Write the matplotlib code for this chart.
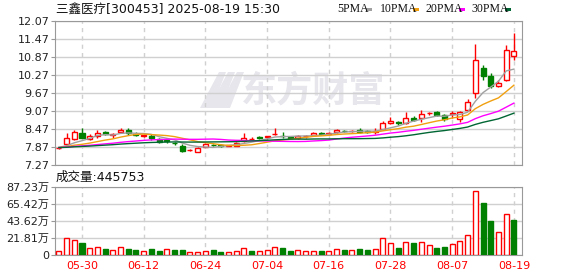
import numpy as np
import matplotlib.pyplot as plt
from matplotlib.patches import Rectangle, Polygon

plt.rcParams['font.family'] = ['DejaVu Sans', 'Noto Sans CJK SC']

# ---- data ----
dates = ["05-27", "05-28", "05-29", "05-30", "06-03", "06-04", "06-05", "06-06", "06-09", "06-10",
         "06-11", "06-12", "06-13", "06-16", "06-17", "06-18", "06-19", "06-20", "06-23", "06-24",
         "06-25", "06-26", "06-27", "06-30", "07-01", "07-02", "07-03", "07-04", "07-07", "07-08",
         "07-09", "07-10", "07-11", "07-14", "07-15", "07-16", "07-17", "07-18", "07-21", "07-22",
         "07-23", "07-24", "07-25", "07-28", "07-29", "07-30", "07-31", "08-01", "08-04", "08-05",
         "08-06", "08-07", "08-08", "08-11", "08-12", "08-13", "08-14", "08-15", "08-18", "08-19"]

opens = [7.82, 7.96, 8.13, 8.33, 8.13, 8.24, 8.38, 8.28, 8.36, 8.44,
         8.29, 8.25, 8.25, 8.14, 8.12, 8.01, 7.91, 7.76, 7.72, 7.88,
         7.95, 7.95, 7.91, 7.91, 8.07, 8.14, 8.19, 8.19, 8.29, 8.25,
         8.19, 8.17, 8.22, 8.27, 8.34, 8.32, 8.36, 8.42, 8.40, 8.45,
         8.39, 8.38, 8.47, 8.68, 8.69, 8.67, 8.84, 8.84, 8.99, 9.05,
         8.94, 8.97, 8.79, 9.10, 9.68, 10.49, 10.25, 9.92, 10.10, 10.90]
closes = [7.84, 8.16, 8.36, 8.18, 8.24, 8.33, 8.30, 8.30, 8.44, 8.33,
          8.26, 8.27, 8.16, 8.05, 8.06, 7.99, 7.75, 7.78, 7.85, 7.97,
          7.93, 7.91, 7.93, 8.01, 8.16, 8.15, 8.17, 8.22, 8.31, 8.23,
          8.18, 8.23, 8.24, 8.35, 8.32, 8.33, 8.44, 8.40, 8.42, 8.38,
          8.37, 8.40, 8.66, 8.74, 8.67, 8.83, 8.77, 8.96, 9.01, 8.94,
          8.80, 8.99, 9.03, 9.38, 10.77, 10.25, 9.91, 10.00, 11.10, 11.07]
highs = [7.86, 8.33, 8.44, 8.49, 8.29, 8.44, 8.41, 8.33, 8.49, 8.49,
         8.36, 8.30, 8.29, 8.16, 8.14, 8.05, 7.96, 7.80, 7.86, 7.99,
         7.98, 7.97, 7.94, 8.03, 8.33, 8.21, 8.23, 8.23, 8.49, 8.36,
         8.23, 8.26, 8.27, 8.38, 8.38, 8.36, 8.46, 8.45, 8.45, 8.49,
         8.44, 8.49, 8.75, 8.88, 8.75, 9.05, 8.90, 9.10, 9.03, 9.07,
         8.96, 9.07, 9.07, 9.47, 11.30, 10.60, 10.33, 10.10, 11.27, 11.66]
lows = [7.80, 7.95, 8.12, 8.16, 8.10, 8.18, 8.27, 8.18, 8.33, 8.27,
        8.22, 8.20, 8.12, 8.02, 8.02, 7.93, 7.69, 7.74, 7.71, 7.86,
        7.90, 7.88, 7.90, 7.89, 8.05, 8.11, 8.14, 8.14, 8.26, 8.18,
        8.14, 8.14, 8.17, 8.25, 8.27, 8.29, 8.33, 8.36, 8.37, 8.33,
        8.33, 8.29, 8.45, 8.64, 8.62, 8.64, 8.74, 8.71, 8.93, 8.91,
        8.75, 8.83, 8.72, 9.08, 9.51, 10.10, 9.83, 9.86, 10.08, 10.77]

# volume in 万 shares, and its colour flag (1 = red, 0 = green)
volumes = [5.1, 21.4, 19.2, 15.0, 8.5, 9.8, 7.7, 6.4, 9.8, 7.7,
           6.4, 5.1, 7.7, 5.1, 7.3, 6.4, 6.4, 3.8, 3.8, 5.1,
           6.4, 3.8, 3.4, 5.1, 8.5, 5.1, 5.1, 6.4, 10.7, 9.4,
           5.1, 6.4, 5.1, 5.1, 5.1, 5.1, 7.7, 6.4, 6.4, 7.7,
           6.4, 7.7, 21.4, 15.0, 9.4, 16.2, 15.4, 16.2, 12.4, 9.4,
           10.3, 13.7, 17.9, 25.2, 82.1, 66.7, 43.6, 29.1, 52.1, 44.58]
vol_up = [1, 1, 1, 0, 1, 1, 0, 1, 1, 0,
          0, 1, 0, 0, 1, 0, 0, 1, 1, 1,
          0, 0, 1, 1, 1, 0, 1, 1, 1, 0,
          0, 1, 1, 1, 0, 1, 1, 0, 1, 0,
          0, 1, 1, 1, 0, 1, 0, 1, 1, 0,
          0, 1, 1, 1, 1, 0, 0, 1, 1, 0]

ma5 = [7.86, 7.91, 8.01, 8.08, 8.156, 8.254, 8.282, 8.27, 8.322, 8.34,
       8.326, 8.32, 8.292, 8.214, 8.16, 8.106, 8.002, 7.926, 7.886, 7.868,
       7.856, 7.888, 7.918, 7.95, 7.988, 8.032, 8.084, 8.142, 8.202, 8.216,
       8.222, 8.234, 8.238, 8.246, 8.264, 8.294, 8.336, 8.368, 8.382, 8.394,
       8.402, 8.394, 8.446, 8.51, 8.568, 8.66, 8.734, 8.794, 8.848, 8.902,
       8.896, 8.94, 8.954, 9.028, 9.394, 9.684, 9.868, 10.062, 10.406, 10.466]
ma10 = [7.85, 7.88, 7.93, 7.96, 8.00, 8.05, 8.10, 8.14, 8.20, 8.248,
        8.29, 8.301, 8.281, 8.268, 8.25, 8.216, 8.161, 8.109, 8.05, 8.014,
        7.981, 7.945, 7.922, 7.918, 7.928, 7.944, 7.986, 8.03, 8.076, 8.102,
        8.127, 8.159, 8.19, 8.224, 8.24, 8.258, 8.285, 8.303, 8.314, 8.329,
        8.348, 8.365, 8.407, 8.446, 8.481, 8.531, 8.564, 8.62, 8.679, 8.735,
        8.778, 8.837, 8.874, 8.938, 9.148, 9.29, 9.404, 9.508, 9.717, 9.93]
ma20 = [7.85, 7.866, 7.891, 7.908, 7.927, 7.951, 7.974, 7.996, 8.026, 8.05,
        8.07, 8.091, 8.107, 8.117, 8.127, 8.134, 8.129, 8.126, 8.126, 8.131,
        8.136, 8.123, 8.102, 8.093, 8.089, 8.08, 8.074, 8.07, 8.063, 8.058,
        8.054, 8.052, 8.056, 8.071, 8.084, 8.101, 8.136, 8.167, 8.195, 8.216,
        8.238, 8.262, 8.299, 8.335, 8.361, 8.395, 8.425, 8.462, 8.497, 8.532,
        8.563, 8.601, 8.641, 8.692, 8.815, 8.911, 8.984, 9.064, 9.198, 9.333]
ma30 = [7.85, 7.86, 7.877, 7.888, 7.901, 7.917, 7.932, 7.947, 7.967, 7.983,
        7.997, 8.011, 8.021, 8.028, 8.035, 8.039, 8.036, 8.034, 8.034, 8.038,
        8.04, 8.042, 8.045, 8.05, 8.061, 8.071, 8.081, 8.094, 8.109, 8.121,
        8.133, 8.135, 8.131, 8.137, 8.139, 8.139, 8.144, 8.147, 8.147, 8.148,
        8.152, 8.156, 8.173, 8.196, 8.216, 8.244, 8.278, 8.318, 8.356, 8.389,
        8.418, 8.454, 8.49, 8.536, 8.623, 8.693, 8.751, 8.81, 8.903, 8.998]

tick_dates = ["05-30", "06-12", "06-24", "07-04", "07-16", "07-28", "08-07", "08-19"]
price_ticks = [7.27, 7.87, 8.47, 9.07, 9.67, 10.27, 10.87, 11.47, 12.07]
vol_ticks = [0, 21.81, 43.62, 65.42, 87.23]
vol_labels = ["0", "21.81万", "43.62万", "65.42万", "87.23万"]

RED = "#ff0000"
GREEN = "#008000"
FRAME = "#999999"
GRID = "#d0d0d0"
WM = "#e6e6ec"

fig = plt.figure(figsize=(5.78, 2.76), dpi=100)
ax = fig.add_axes([55 / 578, 1 - 165 / 276, 467 / 578, 144 / 276])
axv = fig.add_axes([55 / 578, 1 - 255 / 276, 467 / 578, 68 / 276])

x = np.arange(len(dates))
tick_pos = [dates.index(d) for d in tick_dates]
w = 0.65

# watermark (logo + text)
ax.text(0.552, 0.515, "东方财富", transform=ax.transAxes, fontsize=26, fontweight="bold",
        color=WM, ha="center", va="center", family=["Noto Sans CJK SC"], zorder=0)
for dx in (0, 9, 18):
    ax.add_patch(Polygon([[(200 + dx - 55) / 467, (165 - 108) / 144],
                          [(212 + dx - 55) / 467, (165 - 108) / 144],
                          [(226 + dx - 55) / 467, (165 - 72) / 144],
                          [(219 + dx - 55) / 467, (165 - 72) / 144]],
                         closed=True, transform=ax.transAxes, facecolor=WM,
                         edgecolor="none", zorder=0))

# candles
for i in x:
    o, c, h, l = opens[i], closes[i], highs[i], lows[i]
    up = c >= o
    col = RED if up else GREEN
    ax.vlines(i, l, h, color=col, lw=1, zorder=3)
    body = max(abs(c - o), 0.012)
    ax.add_patch(Rectangle((i - w / 2, min(o, c)), w, body,
                           facecolor="white" if up else GREEN,
                           edgecolor=col, lw=1, zorder=4))

ax.plot(x, ma5, color="#a0a0a0", lw=1, zorder=5)
ax.plot(x, ma10, color="#f0a010", lw=1, zorder=5)
ax.plot(x, ma20, color="#ff00ff", lw=1, zorder=5)
ax.plot(x, ma30, color="#006633", lw=1, zorder=5)

ax.set_xlim(-0.5, 60.05)
ax.set_ylim(7.27, 12.07)
ax.set_yticks(price_ticks)
ax.set_yticklabels(["%.2f" % v for v in price_ticks], fontsize=8, color="#222222")
ax.set_xticks(tick_pos)
ax.set_xticklabels([])
ax.tick_params(axis="x", length=0)
ax.tick_params(axis="y", length=3, color=FRAME, pad=1)
for s in ax.spines.values():
    s.set_color(FRAME)
ax.grid(axis="y", color=GRID, lw=1, zorder=0)
for p in tick_pos:
    ax.axvline(p, color=GRID, lw=1, ls=(0, (3, 3)), zorder=1)

# volume
vcols = [RED if u else GREEN for u in vol_up]
vface = ["white" if u else GREEN for u in vol_up]
axv.bar(x, volumes, width=w, color=vface, edgecolor=vcols, lw=1, zorder=3)
axv.set_xlim(-0.5, 60.05)
axv.set_ylim(0, 87.23)
axv.set_yticks(vol_ticks)
axv.set_yticklabels(vol_labels, fontsize=8, color="#222222")
axv.set_xticks(tick_pos)
axv.set_xticklabels(tick_dates, fontsize=8, color=RED)
axv.tick_params(axis="x", length=0, pad=4)
axv.tick_params(axis="y", length=3, color=FRAME, pad=1)
for s in axv.spines.values():
    s.set_color(FRAME)
axv.grid(axis="y", color=GRID, lw=1, zorder=0)
for p in tick_pos:
    axv.axvline(p, color=GRID, lw=1, ls=(0, (3, 3)), zorder=1)

# header texts
fig.text(56 / 578, 1 - 9 / 276, "三鑫医疗[300453] 2025-08-19 15:30", fontsize=9,
         ha="left", va="center", color="#111111")
fig.text(56 / 578, 1 - 177 / 276, "成交量:445753", fontsize=9,
         ha="left", va="center", color="#111111")

legend_items = [("5PMA", 337, "#a0a0a0"), ("10PMA", 380, "#f0a010"),
                ("20PMA", 425, "#ff00ff"), ("30PMA", 471, "#006633")]
legend_sw = [366, 413, 459, 505]
for sx, (name, px, col) in zip(legend_sw, legend_items):
    fig.text(px / 578, 1 - 9 / 276, name, fontsize=8.5, family=["Liberation Serif"],
             ha="left", va="center", color="#111111")
    fig.patches.append(Rectangle((sx / 578, 1 - 11 / 276), 6 / 578, 3 / 276,
                                 transform=fig.transFigure, facecolor=col, edgecolor="none"))

fig.savefig("out.png", dpi=100)
